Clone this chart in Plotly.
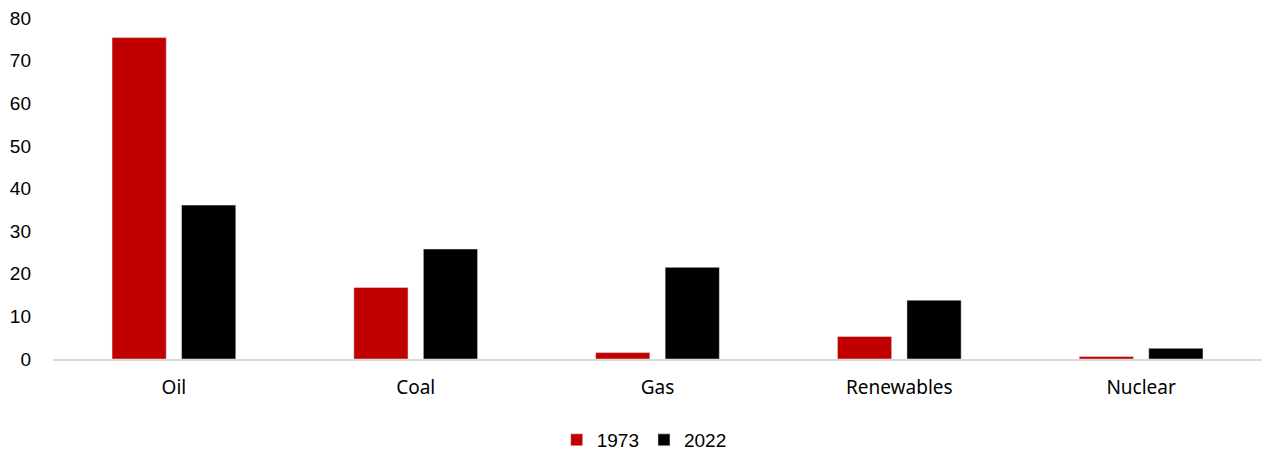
import plotly.graph_objects as go

categories = ["Oil", "Coal", "Gas", "Renewables", "Nuclear"]
values_1973 = [75.4, 16.8, 1.5, 5.3, 0.6]
values_2022 = [36.1, 25.8, 21.5, 13.8, 2.5]
y_ticks = [0, 10, 20, 30, 40, 50, 60, 70, 80]

fig = go.Figure()
fig.add_trace(go.Bar(name="1973", x=categories, y=values_1973, marker_color="#C00000"))
fig.add_trace(go.Bar(name="2022", x=categories, y=values_2022, marker_color="#000000"))

fig.update_layout(
    width=1273, height=453,
    margin=dict(l=53, r=11, t=18, b=94, autoexpand=False),
    plot_bgcolor="white", paper_bgcolor="white",
    barmode="group", bargap=0.425, bargroupgap=0.22,
    font=dict(family="Liberation Sans, Arial, sans-serif", size=19, color="#000000"),
    showlegend=True,
    legend=dict(orientation="h", x=0.489, xanchor="center", y=-0.2375, yanchor="middle",
                font=dict(size=19), itemwidth=30, traceorder="normal"),
)
fig.update_xaxes(showline=True, linecolor="#D9D9D9", linewidth=1.5, showgrid=False,
                 ticks="", tickfont=dict(family="Noto Sans, sans-serif", size=19), ticklabelstandoff=10)
fig.update_yaxes(range=[0, 80], tickvals=y_ticks, showgrid=False, zeroline=False,
                 showline=False, ticks="", ticklabelstandoff=21)

fig.write_html("out.html", config={"displayModeBar": False},
               post_script="document.body.style.margin='0';document.body.style.overflow='hidden';")
